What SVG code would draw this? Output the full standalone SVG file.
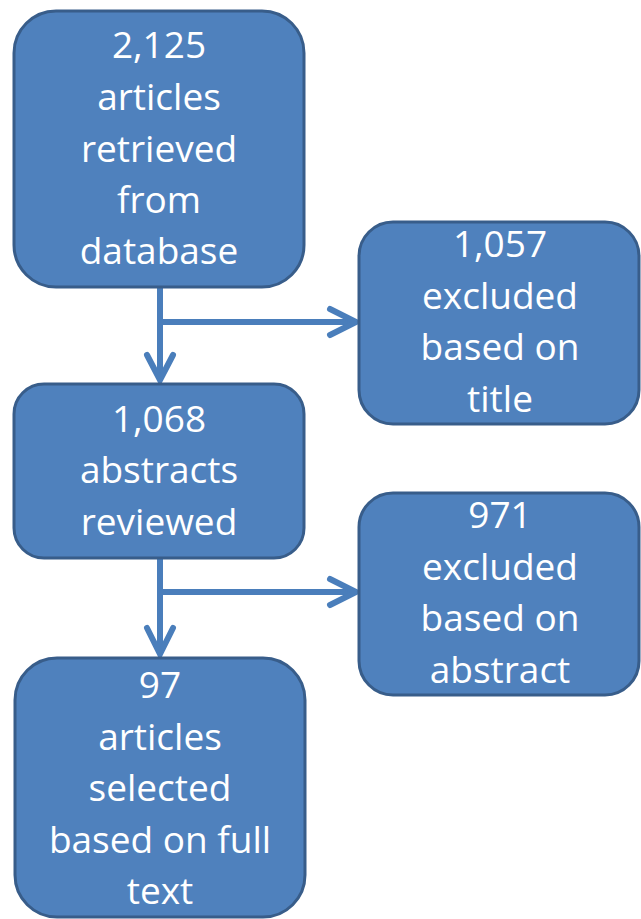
<svg xmlns="http://www.w3.org/2000/svg" width="641" height="919" viewBox="0 0 641 919">
<defs>
<style>
.box{fill:#4F81BD;stroke:#385D8A;stroke-width:3}
.t{font-family:"Open Sans","Liberation Sans",sans-serif;font-size:37px;fill:#FFFFFF;text-anchor:middle}
.ln{fill:none;stroke:#4A7EBB;stroke-width:6}
.ah{fill:none;stroke:#4A7EBB;stroke-width:6;stroke-linecap:round;stroke-linejoin:miter}
</style>
</defs>
<rect width="641" height="919" fill="#FFFFFF"/>
<g id="connectors">
<line class="ln" x1="160" y1="287" x2="160" y2="379"/>
<line class="ln" x1="160" y1="322" x2="354" y2="322"/>
<polyline class="ah" points="147,355 160,380 173,355"/>
<polyline class="ah" points="330,309 356,322 330,335"/>
<line class="ln" x1="160" y1="558" x2="160" y2="653"/>
<line class="ln" x1="160" y1="592" x2="354" y2="592"/>
<polyline class="ah" points="147,628 160,654 173,628"/>
<polyline class="ah" points="330,579 356,592 330,605"/>
</g>
<g id="n1">
<rect class="box" x="14" y="11" width="290" height="276" rx="42"/>
<text class="t" x="159" y="58">2,125</text>
<text class="t" x="159" y="110">articles</text>
<text class="t" x="159" y="162">retrieved</text>
<text class="t" x="159" y="213">from</text>
<text class="t" x="159" y="264">database</text>
</g>
<g id="n2">
<rect class="box" x="359" y="222" width="280" height="202" rx="34"/>
<text class="t" x="500" y="257">1,057</text>
<text class="t" x="500" y="309">excluded</text>
<text class="t" x="500" y="360">based on</text>
<text class="t" x="500" y="412">title</text>
</g>
<g id="n3">
<rect class="box" x="14" y="384" width="290" height="174" rx="30"/>
<text class="t" x="159" y="432">1,068</text>
<text class="t" x="159" y="483">abstracts</text>
<text class="t" x="159" y="535">reviewed</text>
</g>
<g id="n4">
<rect class="box" x="359" y="493" width="280" height="202" rx="34"/>
<text class="t" x="500" y="528">971</text>
<text class="t" x="500" y="580">excluded</text>
<text class="t" x="500" y="631">based on</text>
<text class="t" x="500" y="683">abstract</text>
</g>
<g id="n5">
<rect class="box" x="15" y="658" width="290" height="259" rx="42"/>
<text class="t" x="160" y="698">97</text>
<text class="t" x="160" y="750">articles</text>
<text class="t" x="160" y="801">selected</text>
<text class="t" x="160" y="853">based on full</text>
<text class="t" x="160" y="904">text</text>
</g>
</svg>
